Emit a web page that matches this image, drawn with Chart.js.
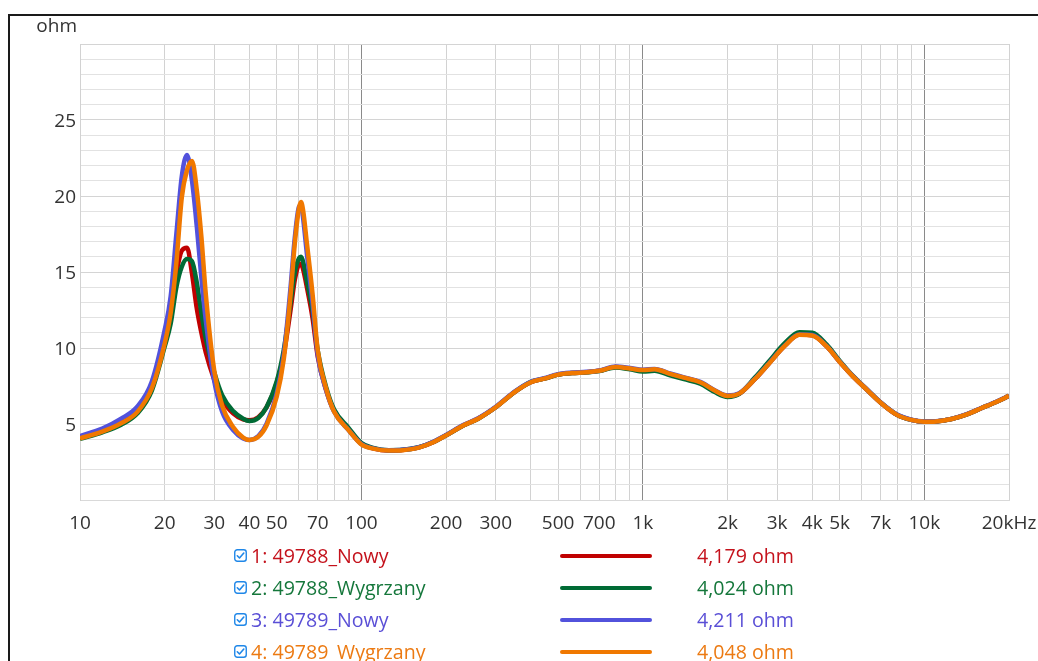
<!DOCTYPE html>
<html>
<head>
<meta charset="utf-8">
<script src="https://cdn.jsdelivr.net/npm/chart.js@4.4.1/dist/chart.umd.min.js"></script>
<style>
  html, body { margin: 0; padding: 0; background: #fff; }
  body { width: 1038px; height: 661px; position: relative; overflow: hidden; font-family: "Open Sans", "Noto Sans", sans-serif; }
  #frame { position: absolute; left: 8px; top: 14px; width: 1100px; height: 700px; border-left: 2px solid #1a1a1a; border-top: 2px solid #1a1a1a; }
  #wrap { position: absolute; left: 0; top: 0; width: 1038px; height: 540px; }
  #legend { position: absolute; left: 0; top: 0; width: 1038px; height: 661px; pointer-events: none; }
  .row { position: absolute; height: 26px; font-size: 19.6px; line-height: 26px; }
  .row .box { position: absolute; left: 234px; top: 6px; width: 13px; height: 13px; }
  .row .name { position: absolute; left: 251px; top: 0; white-space: nowrap; }
  .row .sample { position: absolute; left: 560px; top: 11px; width: 92px; height: 4px; border-radius: 2px; }
  .row .val { position: absolute; left: 697px; top: 0; white-space: nowrap; }
</style>
</head>
<body>
<div id="frame"></div>
<div id="wrap"><canvas id="impChart" width="1038" height="540"></canvas></div>
<div id="legend"></div>
<script>
// frequency points (Hz)
const freqHz = [10, 12, 14, 16, 18, 20, 21, 22, 23, 24, 25, 26, 27, 28, 30, 32, 35, 38, 40, 43,
  46, 50, 53, 56, 58, 60, 61, 62, 64, 67, 70, 75, 80, 90, 100, 110, 125, 140, 160, 180,
  200, 230, 260, 300, 350, 400, 450, 500, 560, 630, 700, 800, 900, 1000, 1100, 1250, 1400, 1600, 1800, 2000,
  2200, 2500, 2800, 3200, 3600, 4000, 4500, 5000, 5600, 6300, 7000, 8000, 9000, 10000, 11000, 12500, 14000, 16000, 18000, 20000];

// impedance, ohm
const nowy49788 = [4.18, 4.55, 5.1, 5.85, 7.4, 10.4, 12.3, 14.9, 16.4, 16.6, 14.9, 12.6, 11.0, 9.7, 7.9, 6.6, 5.7, 5.3, 5.25, 5.45,
  6.1, 7.7, 9.6, 12.5, 14.5, 15.5, 15.55, 15.2, 14.0, 12.0, 9.4, 7.2, 5.85, 4.65, 3.7, 3.4, 3.26, 3.29, 3.46, 3.81,
  4.26, 4.9, 5.36, 6.1, 7.1, 7.75, 8.0, 8.25, 8.35, 8.4, 8.5, 8.75, 8.64, 8.53, 8.58, 8.28, 8.03, 7.73, 7.18, 6.84,
  6.99, 7.95, 8.96, 10.17, 10.88, 10.84, 10.1, 9.1, 8.1, 7.2, 6.4, 5.6, 5.27, 5.15, 5.17, 5.33, 5.6, 6.05, 6.45, 6.85];
const wygrzany49788 = [4.02, 4.45, 4.95, 5.7, 7.2, 10.1, 11.6, 14.0, 15.35, 15.85, 15.7, 14.3, 12.3, 10.6, 8.4, 6.9, 5.85, 5.35, 5.2, 5.4,
  6.1, 7.8, 9.9, 13.0, 15.0, 15.9, 16.0, 15.7, 14.4, 12.5, 9.8, 7.4, 5.95, 4.75, 3.75, 3.43, 3.28, 3.3, 3.47, 3.82,
  4.26, 4.9, 5.35, 6.1, 7.1, 7.77, 8.0, 8.25, 8.35, 8.4, 8.48, 8.72, 8.6, 8.45, 8.5, 8.2, 7.95, 7.65, 7.1, 6.78,
  6.98, 8.05, 9.1, 10.33, 11.04, 11.0, 10.22, 9.17, 8.13, 7.22, 6.41, 5.61, 5.27, 5.15, 5.17, 5.33, 5.6, 6.05, 6.45, 6.85];
const nowy49789 = [4.21, 4.7, 5.35, 6.15, 7.8, 11.2, 13.4, 17.5, 21.3, 22.7, 21.0, 18.0, 14.6, 11.8, 7.8, 5.8, 4.6, 4.05, 3.95, 4.2,
  5.0, 7.0, 9.6, 14.0, 17.3, 19.3, 19.4, 18.6, 16.2, 13.0, 9.5, 7.2, 5.8, 4.6, 3.68, 3.4, 3.27, 3.3, 3.47, 3.83,
  4.28, 4.93, 5.38, 6.13, 7.13, 7.78, 8.03, 8.28, 8.38, 8.43, 8.52, 8.78, 8.68, 8.57, 8.62, 8.32, 8.07, 7.77, 7.22, 6.87,
  7.02, 7.97, 8.97, 10.17, 10.88, 10.85, 10.12, 9.12, 8.12, 7.22, 6.42, 5.62, 5.28, 5.16, 5.18, 5.34, 5.61, 6.06, 6.46, 6.86];
const wygrzany49789 = [4.05, 4.5, 5.05, 5.8, 7.35, 10.3, 12.3, 15.6, 19.9, 21.7, 22.3, 20.4, 17.3, 13.5, 8.5, 6.2, 4.8, 4.1, 3.95, 4.15,
  4.9, 6.8, 9.3, 13.5, 16.9, 19.2, 19.6, 19.1, 16.9, 13.6, 9.8, 7.3, 5.8, 4.6, 3.65, 3.38, 3.25, 3.28, 3.45, 3.8,
  4.25, 4.9, 5.35, 6.1, 7.1, 7.75, 8.0, 8.25, 8.35, 8.4, 8.5, 8.75, 8.65, 8.55, 8.6, 8.3, 8.05, 7.75, 7.2, 6.85,
  7.0, 7.95, 8.95, 10.15, 10.87, 10.82, 10.1, 9.1, 8.1, 7.2, 6.4, 5.6, 5.27, 5.15, 5.17, 5.33, 5.6, 6.05, 6.45, 6.85];

const seriesNames = ['1: 49788_Nowy', '2: 49788_Wygrzany', '3: 49789_Nowy', '4: 49789_Wygrzany'];
const seriesReadout = ['4,179 ohm', '4,024 ohm', '4,211 ohm', '4,048 ohm'];
const seriesData = [nowy49788, wygrzany49788, nowy49789, wygrzany49789];
const lineColors = ['#c00000', '#006b35', '#5252dc', '#f07800'];
const textColors = ['#c4121c', '#15773b', '#5a4fd6', '#ec7a12'];

// x grid: every 1-2-3..9 step per decade; labelled ones below
const xGridValues = [10, 20, 30, 40, 50, 60, 70, 80, 90, 100, 200, 300, 400, 500, 600, 700, 800, 900,
  1000, 2000, 3000, 4000, 5000, 6000, 7000, 8000, 9000, 10000, 20000];
const xTickValues = [10, 20, 30, 40, 50, 70, 100, 200, 300, 500, 700, 1000, 2000, 3000, 4000, 5000, 7000, 10000, 20000];
const xTickLabels = ['10', '20', '30', '40', '50', '70', '100', '200', '300', '500', '700', '1k', '2k', '3k', '4k', '5k', '7k', '10k', '20kHz'];
const yTickLabels = [5, 10, 15, 20, 25];

const FONT = '"Open Sans", "Noto Sans", sans-serif';

const unitLabel = {
    id: 'unitLabel',
    afterDraw(chart) {
        const ctx = chart.ctx;
        ctx.save();
        ctx.font = '19px ' + FONT;
        ctx.fillStyle = '#333';
        ctx.textAlign = 'right';
        ctx.textBaseline = 'middle';
        ctx.fillText('ohm', 77, 27);
        ctx.restore();
    }
};

const datasets = seriesData.map((vals, i) => ({
    label: seriesNames[i],
    data: freqHz.map((f, k) => ({ x: f, y: vals[k] })),
    borderColor: lineColors[i],
    borderWidth: 4.5,
    pointRadius: 0,
    fill: false,
    cubicInterpolationMode: 'monotone',
    order: 4 - i
}));

const ctx = document.getElementById('impChart').getContext('2d');
new Chart(ctx, {
    type: 'line',
    data: { datasets },
    plugins: [unitLabel],
    options: {
        responsive: false,
        animation: false,
        layout: { padding: { left: 0, right: 29, top: 44, bottom: 0 } },
        plugins: { legend: { display: false }, tooltip: { enabled: false } },
        scales: {
            x: {
                type: 'logarithmic',
                min: 10,
                max: 20000,
                afterBuildTicks: scale => { scale.ticks = xGridValues.map(v => ({ value: v })); },
                afterFit: scale => {
                    scale.height = 40;
                    scale.paddingLeft = 0;
                    scale.paddingRight = 0;
                },
                ticks: {
                    autoSkip: false,
                    maxRotation: 0,
                    padding: 12,
                    color: '#333',
                    font: { family: FONT, size: 19 },
                    callback: value => {
                        const i = xTickValues.indexOf(value);
                        return i >= 0 ? xTickLabels[i] : '';
                    }
                },
                grid: {
                    drawTicks: false,
                    lineWidth: 1,
                    color: c => {
                        const v = c.tick ? c.tick.value : 0;
                        return (v === 100 || v === 1000 || v === 10000) ? '#8a8a8a' : '#d2d2d2';
                    }
                },
                border: { color: '#d9d9d9', width: 1 }
            },
            y: {
                min: 0,
                max: 30,
                afterFit: scale => {
                    scale.width = 80;
                    scale.paddingTop = 0;
                    scale.paddingBottom = 0;
                },
                ticks: {
                    stepSize: 1,
                    autoSkip: false,
                    padding: 4,
                    labelOffset: 2,
                    color: '#333',
                    font: { family: FONT, size: 19 },
                    callback: value => yTickLabels.includes(value) ? String(value) : ''
                },
                grid: {
                    drawTicks: false,
                    lineWidth: 1,
                    color: c => (c.tick && c.tick.value % 5 === 0) ? '#d4d4d4' : '#e2e2e2'
                },
                border: { color: '#d2d2d2', width: 1 }
            }
        }
    }
});

// legend rows below the chart
const legend = document.getElementById('legend');
seriesNames.forEach((name, i) => {
    const row = document.createElement('div');
    row.className = 'row';
    row.style.top = (543 + 32 * i) + 'px';
    row.style.left = '0px';
    row.style.width = '1038px';
    row.innerHTML =
        '<svg class="box" viewBox="0 0 13 13"><rect x="0.75" y="0.75" width="11.5" height="11.5" rx="2.5" fill="#fff" stroke="#1f87e8" stroke-width="1.4"/>' +
        '<polyline points="3.3,6.8 5.5,9 9.8,4" fill="none" stroke="#1f87e8" stroke-width="1.6" stroke-linecap="round" stroke-linejoin="round"/></svg>' +
        '<span class="name" style="color:' + textColors[i] + '">' + name + '</span>' +
        '<span class="sample" style="background:' + lineColors[i] + '"></span>' +
        '<span class="val" style="color:' + textColors[i] + '">' + seriesReadout[i] + '</span>';
    legend.appendChild(row);
});
</script>
</body>
</html>
